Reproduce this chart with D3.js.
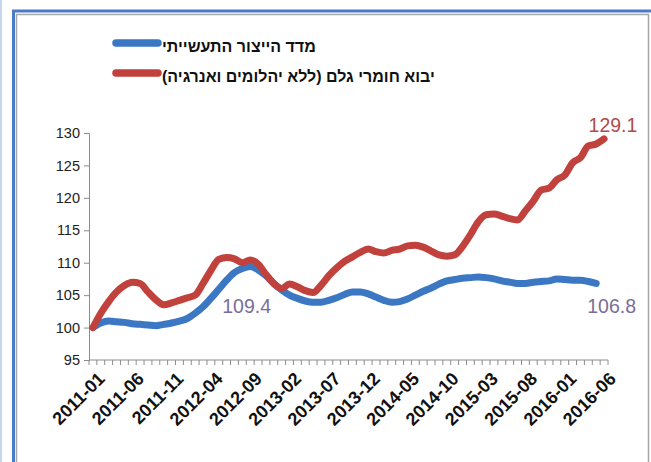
<!DOCTYPE html>
<html><head><meta charset="utf-8">
<script src="https://cdn.jsdelivr.net/npm/d3@7"></script>
<style>
html,body{margin:0;padding:0;background:#fff;}
svg{display:block;}
text{font-family:"Liberation Sans",Arial,sans-serif;}
</style></head>
<body>
<svg id="chart" width="651" height="462"></svg>
<script>
// ---- data ----
const seriesNames = ["מדד הייצור התעשייתי", "יבוא חומרי גלם (ללא יהלומים ואנרגיה)"];
const months = [];
for (let yr = 2011; yr <= 2016; yr++) for (let m = 1; m <= 12; m++) { if (yr === 2016 && m > 6) break; months.push(yr + "-" + String(m).padStart(2, "0")); }
const industrialProduction = [
  100.0,100.7,101.0,100.9,100.8,100.6,100.5,100.4,100.3,100.5,100.7,101.0,
  101.4,102.2,103.2,104.5,105.9,107.3,108.5,109.1,109.4,108.9,108.0,106.8,
  105.8,105.0,104.5,104.1,103.9,103.9,104.2,104.6,105.1,105.5,105.5,105.2,
  104.7,104.2,103.9,104.0,104.4,105.0,105.6,106.1,106.7,107.2,107.4,107.6,
  107.7,107.8,107.7,107.5,107.2,107.0,106.8,106.8,107.0,107.1,107.2,107.5,
  107.4,107.3,107.3,107.1,106.8
];
const rawMaterialImports = [
  100.0,102.2,104.0,105.5,106.5,107.0,106.8,105.5,104.3,103.5,103.8,104.2,
  104.6,105.0,106.8,108.8,110.5,110.8,110.6,110.0,110.4,109.8,108.2,106.8,
  106.0,106.7,106.3,105.7,105.4,106.5,108.0,109.2,110.2,110.9,111.6,112.1,
  111.7,111.5,111.9,112.1,112.6,112.7,112.4,111.8,111.2,111.0,111.2,112.5,
  114.3,116.3,117.4,117.5,117.2,116.8,116.6,118.0,119.5,121.2,121.5,122.8,
  123.5,125.4,126.2,128.0,128.3,129.1
];
const yTicks = [95,100,105,110,115,120,125,130];
const xTickLabels = ["2011-01","2011-06","2011-11","2012-04","2012-09","2013-02","2013-07","2013-12","2014-05","2014-10","2015-03","2015-08","2016-01","2016-06"];
const dataLabels = [
  {series: 0, month: "2012-09", text: "109.4"},
  {series: 0, month: "2016-05", text: "106.8"},
  {series: 1, month: "2016-06", text: "129.1"}
];

// ---- drawing ----
const svg = d3.select("#chart");
const colors = ["#3b77c2", "#c1413d"];
const labelColors = ["#7a6c9c", "#b04c4a"];

// frame
svg.append("rect").attr("x",0).attr("y",0).attr("width",2).attr("height",462).attr("fill","#c5d8ef");
svg.append("path").attr("d","M13.5,462 V11 H651").attr("fill","none").attr("stroke","#4a7bc8").attr("stroke-width",3);
svg.append("path").attr("d","M16.5,462 V14.5 H648.5 V462").attr("fill","none").attr("stroke","#a8a8a8").attr("stroke-width",1.5);

const pLeft = 89, pRight = 608, pTop = 133, pBottom = 360;
const x = d3.scalePoint().domain(months).range([pLeft, pRight]).padding(0.5);
const xb = d3.scaleBand().domain(months).range([pLeft, pRight]);
const y = d3.scaleLinear().domain([95,130]).range([pBottom, pTop]);

// y axis
const yAxis = d3.axisLeft(y).tickValues(yTicks).tickSize(5).tickPadding(4);
const gy = svg.append("g").attr("transform",`translate(${pLeft},0)`).call(yAxis);
gy.selectAll("path,line").attr("stroke","#8c8c8c");
gy.selectAll("text").attr("font-size",14.5).attr("fill","#222").attr("font-family","'Liberation Sans',Arial,sans-serif");

// x axis with ticks at category boundaries
const gx = svg.append("g").attr("transform",`translate(0,${pBottom})`);
gx.append("line").attr("x1",pLeft).attr("x2",pRight).attr("stroke","#8c8c8c");
const boundaries = months.map(m => xb(m)).concat([pRight]);
gx.selectAll("line.tk").data(boundaries).enter().append("line").attr("class","tk")
  .attr("x1",d=>d).attr("x2",d=>d).attr("y1",0).attr("y2",5).attr("stroke","#8c8c8c");
gx.selectAll("text").data(xTickLabels).enter().append("text")
  .attr("transform", d => `translate(${x(d)+4},11) rotate(-45)`)
  .attr("text-anchor","end").attr("dy","0.7em")
  .attr("font-size",18).attr("font-weight","bold").attr("fill","#111")
  .text(d=>d);

// lines
const series = [industrialProduction, rawMaterialImports];
const line = d3.line().x((d,i)=>x(months[i])).y(d=>y(d)).curve(d3.curveMonotoneX);
series.forEach((s,k)=>{
  svg.append("path").datum(s).attr("d",line).attr("fill","none")
    .attr("stroke",colors[k]).attr("stroke-width",7)
    .attr("stroke-linecap","round").attr("stroke-linejoin","round");
});

// data labels
const lblOffset = {"109.4":[-28,46], "106.8":[-9,29.5], "129.1":[-15.5,-7]};
dataLabels.forEach(dl=>{
  const s = series[dl.series];
  const i = months.indexOf(dl.month);
  const o = lblOffset[dl.text];
  svg.append("text").attr("x", x(dl.month)+o[0]).attr("y", y(s[i])+o[1])
    .attr("font-size",19.5).attr("fill",labelColors[dl.series]).text(dl.text);
});

// legend
const legendY = [43, 73];
seriesNames.forEach((n,k)=>{
  svg.append("line").attr("x1",116).attr("x2",158).attr("y1",legendY[k]).attr("y2",legendY[k])
    .attr("stroke",colors[k]).attr("stroke-width",7.5).attr("stroke-linecap","round");
  svg.append("text").attr("x",162).attr("y",legendY[k]+8.5).attr("font-size",16).attr("font-weight","bold")
    .attr("fill","#111").text(n + "\u200F");
});
</script>
</body></html>
